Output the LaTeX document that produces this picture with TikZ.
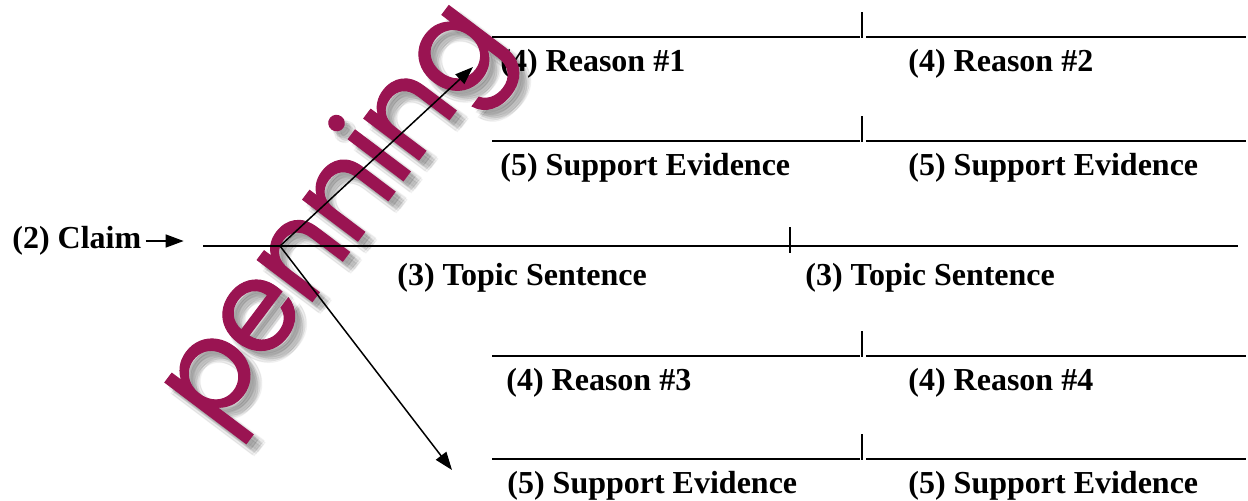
\documentclass[tikz,border=0pt]{standalone}
\usepackage{fontspec}
\setmainfont{Liberation Serif}
\newfontfamily\wmfont{Poppins}[LetterSpace=-4,FakeBold=0.8]
\usetikzlibrary{arrows.meta}
\definecolor{wmcol}{HTML}{9A1452}
\begin{document}
\begin{tikzpicture}[x=0.5pt,y=-0.5pt,
  lbl/.style={font=\fontsize{16}{19}\selectfont\bfseries, anchor=base west, inner sep=0pt},
  rule/.style={line width=0.75pt},
  arr/.style={line width=0.75pt, -{Triangle[length=9pt,width=6.5pt]}},
  wmark/.style={font=\wmfont\fontsize{63}{63}\selectfont, rotate=53, anchor=base west, inner sep=0pt}]
\useasboundingbox (0,0) rectangle (1248,500);
\clip (0,0) rectangle (1248,500);

% labels
\node[lbl] (claim) at (12,248) {(2) Claim};
\node[lbl] (r1) at (500,71) {(4) Reason \#1};
\node[lbl] (r2) at (908,71) {(4) Reason \#2};
\node[lbl] (s1) at (500,175) {(5) Support Evidence};
\node[lbl] (s2) at (908,175) {(5) Support Evidence};
\node[lbl] (t1) at (397,285) {(3) Topic Sentence};
\node[lbl] (t2) at (805,285) {(3) Topic Sentence};
\node[lbl] (r3) at (506,390) {(4) Reason \#3};
\node[lbl] (r4) at (908,390) {(4) Reason \#4};
\node[lbl] (s3) at (507,493) {(5) Support Evidence};
\node[lbl] (s4) at (908,493) {(5) Support Evidence};

% watermark with soft shadow
\foreach \dx/\dy in {12/8,10/10,8/12,11/6,6/11,9/8,8/9,7/7,5/5,4/6,6/4,3/3}
  \node[wmark, text=black, opacity=0.035] at (214+\dx,432+\dy) {penning};
\node[wmark, text=wmcol] (wm) at (214,432) {penning};

% lines
\coordinate (m0) at (203,246);
\coordinate (m1) at (1238,246);
\coordinate (o) at (280,246);
\draw[rule] (m0) -- (m1);
\draw[rule] (790,227) -- (790,253);

\foreach \y in {37,141,356,459} {
  \draw[rule] (492,\y) -- (860,\y);
  \draw[rule] (862,\y-25) -- (862,\y+1);
  \draw[rule] (866,\y) -- (1246,\y);
}

% arrows
\coordinate (up) at (473,67);
\coordinate (dn) at (452,470);
\draw[arr] (o) -- (up);
\draw[arr] (o) -- (dn);
\draw[arr] ([shift={(2pt,3.5pt)}]claim.base east) -- ++(19pt,0);
\end{tikzpicture}
\end{document}
